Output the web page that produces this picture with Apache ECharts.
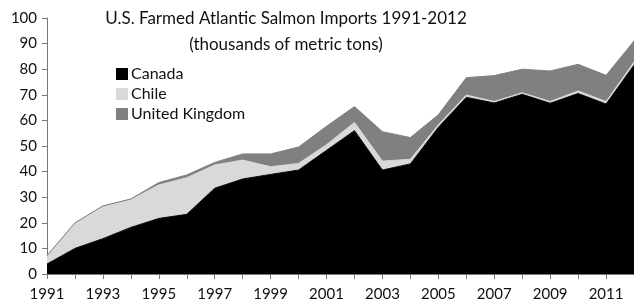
<!DOCTYPE html>
<html>
<head>
<meta charset="utf-8">
<script src="https://cdn.jsdelivr.net/npm/echarts@6/dist/echarts.min.js"></script>
<style>
  html, body { margin: 0; padding: 0; background: #fff; }
  #chart { width: 634px; height: 302px; }
</style>
</head>
<body>
<div id="chart"></div>
<script>
// 年份
const years = ['1991', '1992', '1993', '1994', '1995', '1996', '1997', '1998', '1999', '2000', '2001',
    '2002', '2003', '2004', '2005', '2006', '2007', '2008', '2009', '2010', '2011', '2012'];
// 各国进口量（千公吨）
const canada = [3.9, 10, 13.8, 18.2, 21.7, 23.3, 33.5, 37.1, 38.9, 40.6, 48.3, 56, 40.6, 43, 57.3, 69, 66.8, 70.2, 66.7, 70.5, 66.4, 81.6];
const chile = [3.0, 9.7, 12.5, 10.8, 13.1, 14.3, 9.1, 7.4, 3.0, 2.6, 2.2, 3.2, 3.5, 1.8, 1.0, 0.9, 0.6, 0.6, 0.7, 1.0, 1.0, 1.2];
const uk = [0.3, 0.3, 0.3, 0.3, 0.9, 1.1, 1.0, 2.4, 5.0, 6.4, 7.2, 6.2, 11.5, 8.5, 3.9, 6.8, 10.1, 9.2, 11.9, 10.4, 10.2, 8.2];
const yTicks = { min: 0, max: 100, interval: 10 };

const font = 'Lato, "Open Sans", sans-serif';

function areaSeries(name, data, color) {
    return {
        name: name,
        type: 'line',
        stack: 'total',
        data: data,
        symbol: 'none',
        lineStyle: { width: 1, color: color },
        itemStyle: { color: color },
        areaStyle: { color: color, opacity: 1 }
    };
}

let chart = echarts.init(document.getElementById('chart'));
chart.setOption({
    animation: false,
    title: {
        text: 'U.S. Farmed Atlantic Salmon Imports 1991-2012\n(thousands of metric tons)',
        left: 281,
        top: 1,
        textAlign: 'center',
        textStyle: { fontFamily: font, fontSize: 17, fontWeight: 'normal', color: '#111', lineHeight: 26 }
    },
    legend: {
        orient: 'vertical',
        left: 111,
        top: 61,
        icon: 'rect',
        itemWidth: 12,
        itemHeight: 12,
        itemGap: 4,
        textStyle: { fontFamily: font, fontSize: 16, color: '#111', padding: [0, 0, 0, -2] },
        data: ['Canada', 'Chile', 'United Kingdom']
    },
    grid: { left: 47, right: 0, top: 18, bottom: 28, containLabel: false },
    xAxis: {
        type: 'category',
        boundaryGap: false,
        data: years,
        axisLine: { lineStyle: { color: '#777', width: 1 } },
        axisTick: { show: true, interval: 0, length: 5, lineStyle: { color: '#777' } },
        axisLabel: { interval: 1, fontFamily: font, fontSize: 15, color: '#111', margin: 13 }
    },
    yAxis: {
        type: 'value',
        min: yTicks.min,
        max: yTicks.max,
        interval: yTicks.interval,
        splitLine: { show: false },
        axisLine: { show: true, lineStyle: { color: '#777', width: 1 } },
        axisTick: { show: true, length: 5, lineStyle: { color: '#777' } },
        axisLabel: { fontFamily: font, fontSize: 15, color: '#111', margin: 10 }
    },
    series: [
        areaSeries('Canada', canada, '#000000'),
        areaSeries('Chile', chile, '#d9d9d9'),
        areaSeries('United Kingdom', uk, '#808080')
    ]
});
</script>
</body>
</html>
